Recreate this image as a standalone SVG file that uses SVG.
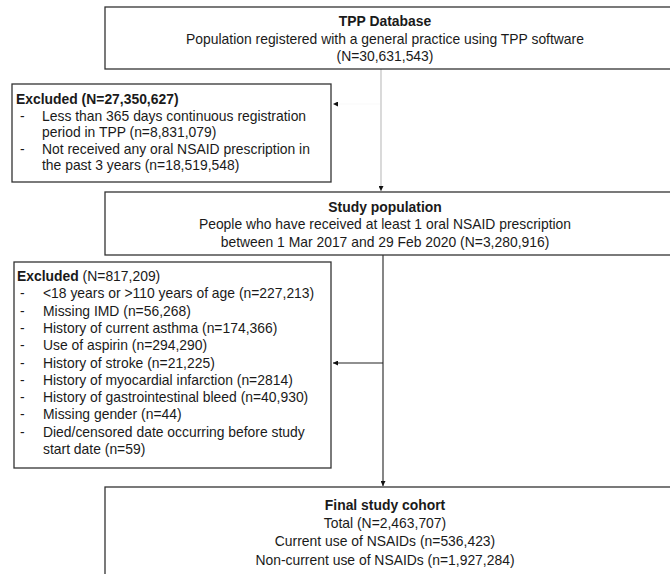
<svg xmlns="http://www.w3.org/2000/svg" width="670" height="574" viewBox="0 0 670 574">
<defs>
<style>
.box{fill:#fff;stroke:#333;stroke-width:1.3}
text{font-family:"Liberation Sans",Arial,sans-serif;font-size:13.9px;fill:#1a1a1a}
.c{text-anchor:middle}
.b{font-weight:bold}
.con{fill:none;stroke:#222;stroke-width:1.1}
.gray{stroke:#bbb}
.faint{stroke:#fafafa}
</style>
<marker id="ah" viewBox="0 0 10 10" refX="10" refY="5" markerWidth="5" markerHeight="5" orient="auto-start-reverse" markerUnits="userSpaceOnUse">
<path d="M0,0 L10,5 L0,10 z" fill="#111"/>
</marker>
</defs>
<rect width="670" height="574" fill="#fff"/>
<g id="connectors">
<path class="con gray" d="M381,69 V191" marker-end="url(#ah)"/>
<path class="con faint" d="M380,104 H333" marker-end="url(#ah)"/>
<path class="con" d="M383,255 V486" marker-end="url(#ah)"/>
<path class="con" d="M383,363 H333" marker-end="url(#ah)"/>
</g>
<g id="tpp">
<rect class="box" x="105" y="7" width="600" height="62"/>
<text class="c b" x="385" y="26">TPP Database</text>
<text class="c" x="385" y="43.5">Population registered with a general practice using TPP software</text>
<text class="c" x="385" y="61">(N=30,631,543)</text>
</g>
<g id="excluded1">
<rect class="box" x="12" y="84" width="319" height="98"/>
<text class="b" x="16" y="104">Excluded (N=27,350,627)</text>
<text x="20" y="120.5">-</text><text x="42" y="120.5">Less than 365 days continuous registration</text>
<text x="42" y="137">period in TPP (n=8,831,079)</text>
<text x="20" y="153.5">-</text><text x="42" y="153.5">Not received any oral NSAID prescription in</text>
<text x="42" y="170">the past 3 years (n=18,519,548)</text>
</g>
<g id="study">
<rect class="box" x="105" y="192" width="600" height="63"/>
<text class="c b" x="385" y="211.5">Study population</text>
<text class="c" x="385" y="229">People who have received at least 1 oral NSAID prescription</text>
<text class="c" x="385" y="246.5">between 1 Mar 2017 and 29 Feb 2020 (N=3,280,916)</text>
</g>
<g id="excluded2">
<rect class="box" x="14" y="262" width="317" height="206"/>
<text x="17" y="281"><tspan class="b">Excluded</tspan> (N=817,209)</text>
<text x="20" y="298.3">-</text><text x="43" y="298.3">&lt;18 years or &gt;110 years of age (n=227,213)</text>
<text x="20" y="315.6">-</text><text x="43" y="315.6">Missing IMD (n=56,268)</text>
<text x="20" y="332.9">-</text><text x="43" y="332.9">History of current asthma (n=174,366)</text>
<text x="20" y="350.2">-</text><text x="43" y="350.2">Use of aspirin (n=294,290)</text>
<text x="20" y="367.5">-</text><text x="43" y="367.5">History of stroke (n=21,225)</text>
<text x="20" y="384.8">-</text><text x="43" y="384.8">History of myocardial infarction (n=2814)</text>
<text x="20" y="402.1">-</text><text x="43" y="402.1">History of gastrointestinal bleed (n=40,930)</text>
<text x="20" y="419.4">-</text><text x="43" y="419.4">Missing gender (n=44)</text>
<text x="20" y="436.7">-</text><text x="43" y="436.7">Died/censored date occurring before study</text>
<text x="43" y="454">start date (n=59)</text>
</g>
<g id="final">
<rect class="box" x="105" y="487" width="600" height="100"/>
<text class="c b" x="385" y="509.5">Final study cohort</text>
<text class="c" x="385" y="527.5">Total (N=2,463,707)</text>
<text class="c" x="385" y="546">Current use of NSAIDs (n=536,423)</text>
<text class="c" x="385" y="564.5">Non-current use of NSAIDs (n=1,927,284)</text>
</g>
</svg>
